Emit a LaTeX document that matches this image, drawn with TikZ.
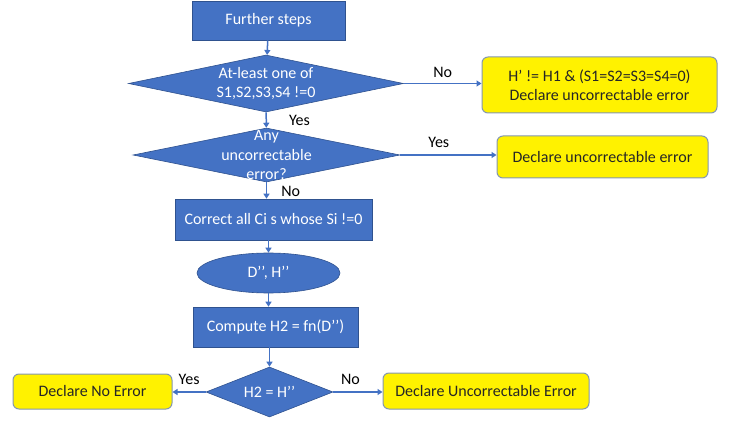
\documentclass[tikz,border=0pt]{standalone}
\usepackage{fontspec}
\setmainfont{Carlito}
\usetikzlibrary{shapes.geometric,arrows.meta}
\definecolor{boxblue}{HTML}{4472C4}
\definecolor{edgeblue}{HTML}{2F528F}
\definecolor{noteedge}{HTML}{8497B0}
\tikzset{
  process/.style={rectangle, draw=edgeblue, fill=boxblue, text=white, align=center, line width=0.6pt},
  decision/.style={diamond, draw=edgeblue, fill=boxblue, text=white, align=center, inner sep=-4pt, aspect=4.8, line width=0.6pt},
  result/.style={rectangle, rounded corners=6pt, draw=noteedge, fill=yellow, text=black!85, align=center, line width=1pt},
  flow/.style={draw=boxblue, line width=1.5pt, -{Triangle[length=5pt,width=6pt]}},
  answer/.style={text=black, inner sep=2pt}
}
\begin{document}
\begin{tikzpicture}[x=1pt, y=-1pt, font=\fontsize{16}{19.5}\selectfont]
\useasboundingbox (0,0) rectangle (734,422);
% main column
\node[process, minimum width=153, minimum height=39] (further) at (268.5,20.5) {Further steps};
\node[decision, minimum width=275, minimum height=57] (d1) at (266,83.5) {At-least one of\\S1,S2,S3,S4 !=0};
\node[decision, minimum width=267, minimum height=54,
      label={[text=white, align=center]center:Any\\uncorrectable\\error?}] (d2) at (266.5,155) {};
\node[process, minimum width=197, minimum height=41] (fix) at (273.5,219.5) {Correct all Ci s whose Si !=0};
\node[ellipse, draw=edgeblue, fill=boxblue, text=white, minimum width=143, minimum height=40, line width=0.6pt] (dh) at (268.5,273) {D’’, H’’};
\node[process, minimum width=165, minimum height=40] (comp) at (275.5,327) {Compute H2 = fn(D’’)};
\node[decision, minimum width=127, minimum height=50] (d3) at (269.5,392) {H2 = H’’};
% outcomes
\node[result, minimum width=235, minimum height=56] (err1) at (599.5,85) {H’ != H1 \& (S1=S2=S3=S4=0)\\Declare uncorrectable error};
\node[result, minimum width=211, minimum height=42] (err2) at (602.5,157) {Declare uncorrectable error};
\node[result, minimum width=159, minimum height=35] (noerr) at (92.5,391.5) {Declare No Error};
\node[result, minimum width=206, minimum height=36] (uncorr) at (486,391) {Declare Uncorrectable Error};
% connectors
\draw[flow] (further) -- (d1);
\draw[flow] (d1.east) -- node[answer, above=3pt] {No} (d1.east -| err1.west);
\draw[flow] (d1) -- node[answer, right=20pt] {Yes} (d2);
\draw[flow] (d2.east) -- node[answer, above=5pt, pos=0.4] {Yes} (d2.east -| err2.west);
\draw[flow] (d2.south) -- node[answer, right=12pt, pos=0.55] {No} (d2.south |- fix.north);
\draw[flow] (dh.north |- fix.south) -- (dh.north);
\draw[flow] (dh.south) -- (dh.south |- comp.north);
\draw[flow] (d3.north |- comp.south) -- (d3.north);
\draw[flow] (d3.west) -- node[answer, above=5pt] {Yes} (noerr.east |- d3.west);
\draw[flow] (d3.east) -- node[answer, above=5pt, pos=0.35] {No} (uncorr.west |- d3.east);
\end{tikzpicture}
\end{document}
